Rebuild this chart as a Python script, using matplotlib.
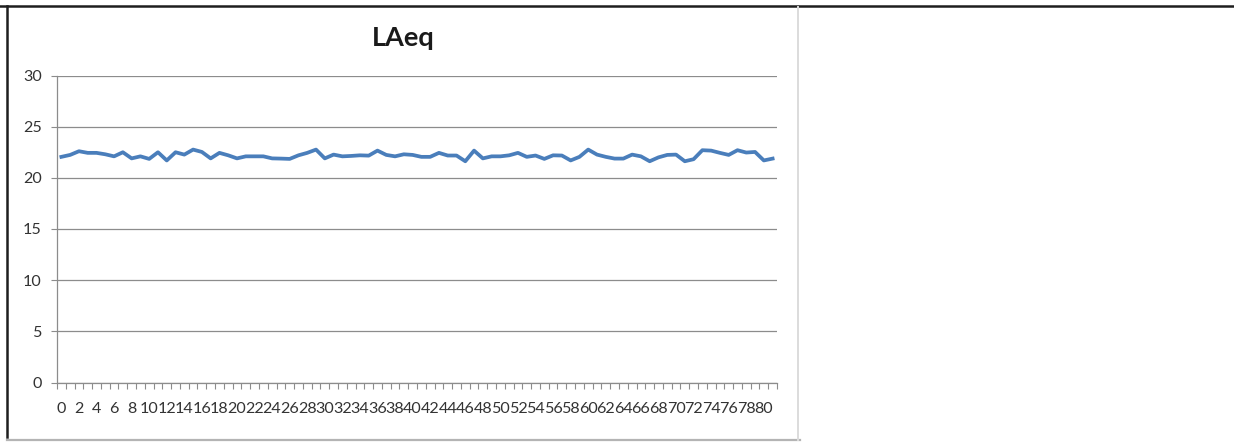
import numpy as np
import matplotlib
matplotlib.use('Agg')
from matplotlib import pyplot as plt
from matplotlib.lines import Line2D

plt.rcParams['font.family'] = ['Lato', 'DejaVu Sans']

# LAeq readings, one per interval (0..81)
intervals = list(range(82))
laeq = [22.05, 22.24, 22.6, 22.44, 22.44, 22.3, 22.1, 22.5, 21.9, 22.1,
        21.85, 22.5, 21.7, 22.5, 22.27, 22.76, 22.53, 21.9, 22.44, 22.2,
        21.9, 22.1, 22.1, 22.1, 21.9, 21.88, 21.85, 22.2, 22.44, 22.76,
        21.9, 22.27, 22.1, 22.14, 22.2, 22.17, 22.66, 22.24, 22.1, 22.3,
        22.24, 22.05, 22.05, 22.44, 22.18, 22.18, 21.62, 22.66, 21.9, 22.1,
        22.1, 22.2, 22.44, 22.05, 22.18, 21.85, 22.2, 22.18, 21.7, 22.05,
        22.76, 22.27, 22.05, 21.88, 21.88, 22.27, 22.1, 21.62, 22.0, 22.24,
        22.27, 21.62, 21.82, 22.7, 22.66, 22.44, 22.24, 22.7, 22.47, 22.53,
        21.7, 21.88]
y_ticks = [0, 5, 10, 15, 20, 25, 30]

W, H = 1234, 442
fig = plt.figure(figsize=(W / 100, H / 100), dpi=100)
fig.patch.set_facecolor('white')

def px(x0, y0, x1, y1):
    return [x0 / W, x1 / W], [1 - y0 / H, 1 - y1 / H]

# plot area in pixel terms
left, right, top, bottom = 57, 777, 75.5, 382.5
ax = fig.add_axes([left / W, 1 - bottom / H, (right - left) / W, (bottom - top) / H])

ax.plot(intervals, laeq, color='#4a7ebb', linewidth=2.7, solid_joinstyle='round')

ax.set_xlim(-0.5, len(intervals) - 0.5)
ax.set_ylim(0, 30)
ax.set_yticks(y_ticks)
ax.set_yticklabels([str(v) for v in y_ticks])

# labels on every other interval, tick marks between intervals
lab_pos = intervals[::2]
ax.set_xticks(lab_pos)
ax.set_xticklabels([str(v) for v in lab_pos])
ax.set_xticks(np.arange(-0.5, len(intervals), 1.0), minor=True)
ax.tick_params(axis='x', which='major', length=0, pad=14, labelsize=11.6, labelcolor='#333333')
ax.tick_params(axis='x', which='minor', length=4, width=0.8, color='#8c8c8c', direction='out')
ax.tick_params(axis='y', length=4, width=0.8, color='#8c8c8c', pad=7, labelsize=11.6, labelcolor='#333333')

ax.grid(axis='y', color='#8c8c8c', linewidth=0.9)
ax.set_axisbelow(True)
for s in ['top', 'right']:
    ax.spines[s].set_visible(False)
for s in ['left', 'bottom']:
    ax.spines[s].set_color('#8c8c8c')
    ax.spines[s].set_linewidth(0.9)

fig.text(403 / W, 1 - 46 / H, 'LAeq', ha='center', va='baseline',
         fontsize=19.5, fontweight='bold', color='#1a1a1a')

# chart frame
xs, ys = px(0, 6, W, 6)
fig.add_artist(Line2D(xs, ys, color='#1e1e1e', linewidth=1.8))
xs, ys = px(7, 6, 7, 437)
fig.add_artist(Line2D(xs, ys, color='#1e1e1e', linewidth=1.8))
xs, ys = px(7, 439.5, 800, 439.5)
fig.add_artist(Line2D(xs, ys, color='#b4b4b4', linewidth=1.6))
xs, ys = px(798.5, 7, 798.5, 440)
fig.add_artist(Line2D(xs, ys, color='#dcdcdc', linewidth=1.4))

fig.savefig('out.png', dpi=100, facecolor='white')
